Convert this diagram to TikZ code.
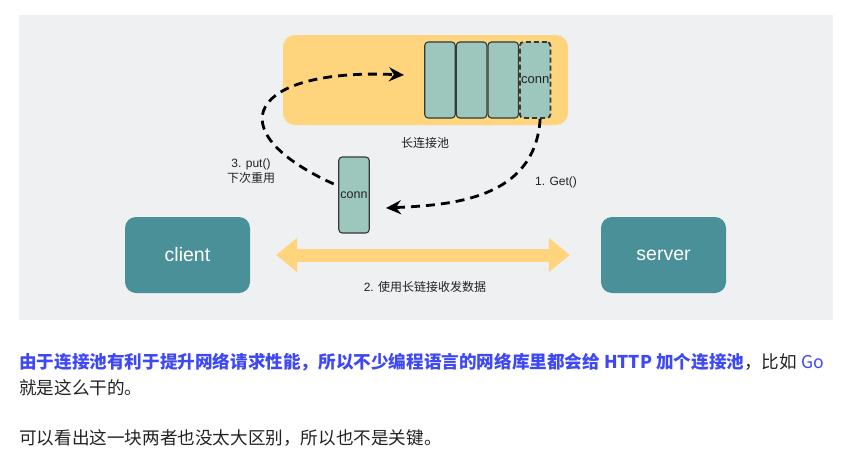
\documentclass[tikz,border=0pt]{standalone}
\usepackage{fontspec}
\setmainfont{Liberation Sans}
\newfontfamily\cjk{Noto Sans CJK SC}
\usetikzlibrary{positioning,arrows.meta}
\definecolor{bggray}{RGB}{238,240,242}
\definecolor{poolyellow}{RGB}{254,213,125}
\definecolor{cellgreen}{RGB}{157,199,189}
\definecolor{celledge}{RGB}{51,56,56}
\definecolor{hostteal}{RGB}{74,144,152}
\definecolor{linkblue}{RGB}{62,72,245}
\definecolor{bodytext}{RGB}{34,34,34}
\tikzset{
  cell/.style={draw=celledge, line width=1.1pt, fill=cellgreen, rounded corners=3.5pt,
    minimum width=30.5pt, minimum height=76pt, text=bodytext},
  host/.style={fill=hostteal, rounded corners=11pt, minimum width=125pt, minimum height=76pt,
    text=white, font=\fontsize{19.5}{22}\selectfont},
  flow/.style={line width=2.8pt, dash pattern=on 9pt off 6pt,
    -{Stealth[length=15pt,width=14pt,inset=5pt]}},
  note/.style={text=bodytext, font=\fontsize{12}{15}\selectfont, align=center},
  body/.style={anchor=base west, text=bodytext, font=\cjk\fontsize{17.6}{25}\selectfont}
}

\begin{document}
\begin{tikzpicture}[x=1pt,y=1pt]
            \tikzstyle{every node}+=[inner sep=0pt]
            \useasboundingbox (0,0) rectangle (860,-461);
            \fill [bggray] (19,-15) rectangle (833,-320);
            \node [fill=poolyellow, rounded corners=12pt, minimum width=285pt, minimum height=90pt] (pool) at (425.5,-80) {};
            \node [cell] (c1) at (440,-80) {};
            \node [cell, right=0pt of c1] (c2) {};
            \node [cell, right=0pt of c2] (c3) {};
            \node [cell, right=0pt of c3, line width=1.8pt, dash pattern=on 5pt off 3pt, font=\fontsize{13}{15}\selectfont] (conn) {conn};
            \node [note] (poollabel) at (425,-143) {\cjk 长连接池};
            \node [cell, font=\fontsize{12.5}{15}\selectfont] (inuse) at (354,-195) {conn};
            \node [host] (client) at (187.5,-255) {client};
            \node [host] (server) at (663.5,-255) {server};
            \node [note] (putlabel) at (251,-171.5) {3. put()\\{\cjk 下次重用}};
            \node [note] (getlabel) at (556,-182) {1. Get()};
            \node [note] (datalabel) at (425,-287) {2. {\cjk 使用长链接收发数据}};
            \coordinate (gettip) at (386,-208);
            \coordinate (puttip) at (404,-75);
            \draw [flow] ([xshift=5pt]conn.south) .. controls (535,-200) and (450,-205) .. (gettip);
            \draw [flow, shorten <=5pt] ([yshift=9pt]inuse.west) .. controls (215,-130) and (250,-68) .. (puttip);
            \draw [poolyellow, line width=13pt, {Triangle[length=21pt,width=33pt]}-{Triangle[length=21pt,width=33pt]}, shorten <=26pt, shorten >=31pt] (client.east) -- (server.west);
            \node [body] (line1) at (19,-368.5) {{\color{linkblue}\bfseries 由于连接池有利于提升网络请求性能，所以不少编程语言的网络库里都会给 HTTP 加个连接池}，比如 {\color{linkblue}Go}};
            \node [body] (line2) at (19,-394) {就是这么干的。};
            \node [body] (line3) at (19,-444) {可以看出这一块两者也没太大区别，所以也不是关键。};
\end{tikzpicture}
\end{document}
